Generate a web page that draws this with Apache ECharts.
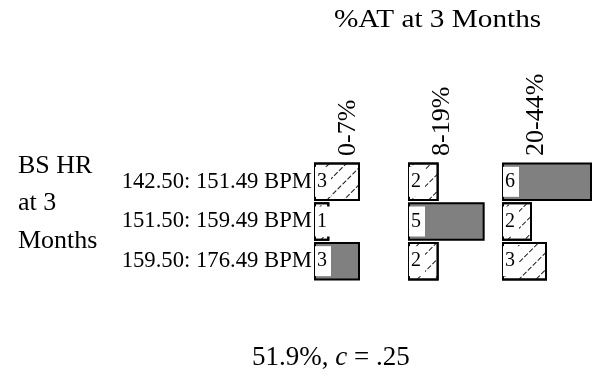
<!DOCTYPE html>
<html><head><meta charset="utf-8">
<script src="https://cdn.jsdelivr.net/npm/echarts@6/dist/echarts.min.js"></script>
<style>html,body{margin:0;padding:0;background:#fff}#c{width:592px;height:377px}</style>
</head><body><div id="c"></div>
<script>
const rowLabels = ["142.50: 151.49 BPM", "151.50: 159.49 BPM", "159.50: 176.49 BPM"];
const colLabels = ["0-7%", "8-19%", "20-44%"];
const counts0 = [3, 1, 3];
const counts1 = [2, 5, 2];
const counts2 = [6, 2, 3];
const highlight0 = [false, false, true];
const highlight1 = [false, true, false];
const highlight2 = [true, false, false];
const titleText = "%AT at 3 Months";
const rowTitle = ["BS HR", "at 3", "Months"];
const footPct = "51.9%";
const footC = ".25";

const FONT = '"Liberation Serif", "Times New Roman", serif';
const counts = [counts0, counts1, counts2];
const highs = [highlight0, highlight1, highlight2];
const gridLefts = [314, 408, 502];
const unit = 15.33;
const xmax = 6;

const hatch = {
  symbol: 'rect', symbolSize: 1, color: '#111',
  dashArrayX: [5, 2], dashArrayY: [1, 11], rotation: -Math.PI / 4
};

const grids = [], xAxes = [], yAxes = [], series = [];
counts.forEach((vals, i) => {
  grids.push({ left: gridLefts[i], top: 162, width: unit * xmax, height: 119, containLabel: false });
  xAxes.push({ gridIndex: i, type: 'value', min: 0, max: xmax, show: false });
  yAxes.push({
    gridIndex: i, type: 'category', data: rowLabels, inverse: true,
    axisLine: { show: false }, axisTick: { show: false },
    axisLabel: { show: i === 0, fontFamily: FONT, fontSize: 22.7, color: '#000', margin: 2 }
  });
  series.push({
    type: 'bar', xAxisIndex: i, yAxisIndex: i, barCategoryGap: '3%',
    data: vals.map((v, j) => ({
      value: v,
      itemStyle: highs[i][j]
        ? { color: '#808080', borderColor: '#000', borderWidth: 2 }
        : { color: '#fff', borderColor: '#000', borderWidth: 2, decal: hatch }
    })),
    label: {
      show: true, position: 'insideLeft', distance: 1,
      fontFamily: FONT, fontSize: 20, lineHeight: 20, color: '#000',
      backgroundColor: '#fff', padding: [5, 4, 5, 2]
    },
    silent: true, animation: false
  });
});

const graphic = [
  { type: 'text', x: 334, y: 20, scaleX: 1.125,
    style: { text: titleText, font: '26px ' + FONT, fill: '#000', verticalAlign: 'middle' } }
];
rowTitle.forEach((t, k) => {
  graphic.push({ type: 'text', x: 18, y: [166, 203, 241][k],
    style: { text: t, font: '26px ' + FONT, fill: '#000', verticalAlign: 'middle' } });
});
graphic.push({ type: 'text', x: 252, y: 358, style: {
  rich: { n: { font: '27px ' + FONT, fill: '#000' }, i: { font: 'italic 27px ' + FONT, fill: '#000' } },
  text: '{n|' + footPct + ', }{i|c}{n| = ' + footC + '}', verticalAlign: 'middle'
} });
colLabels.forEach((t, i) => {
  graphic.push({
    type: 'text', x: gridLefts[i] + 34.5, y: 156, rotation: Math.PI / 2,
    style: { text: t, font: '26px ' + FONT, fill: '#000', align: 'left', verticalAlign: 'middle' }
  });
});

const chart = echarts.init(document.getElementById('c'), null, { renderer: 'canvas' });
chart.setOption({ animation: false, grid: grids, xAxis: xAxes, yAxis: yAxes, series: series, graphic: graphic });
</script></body></html>
